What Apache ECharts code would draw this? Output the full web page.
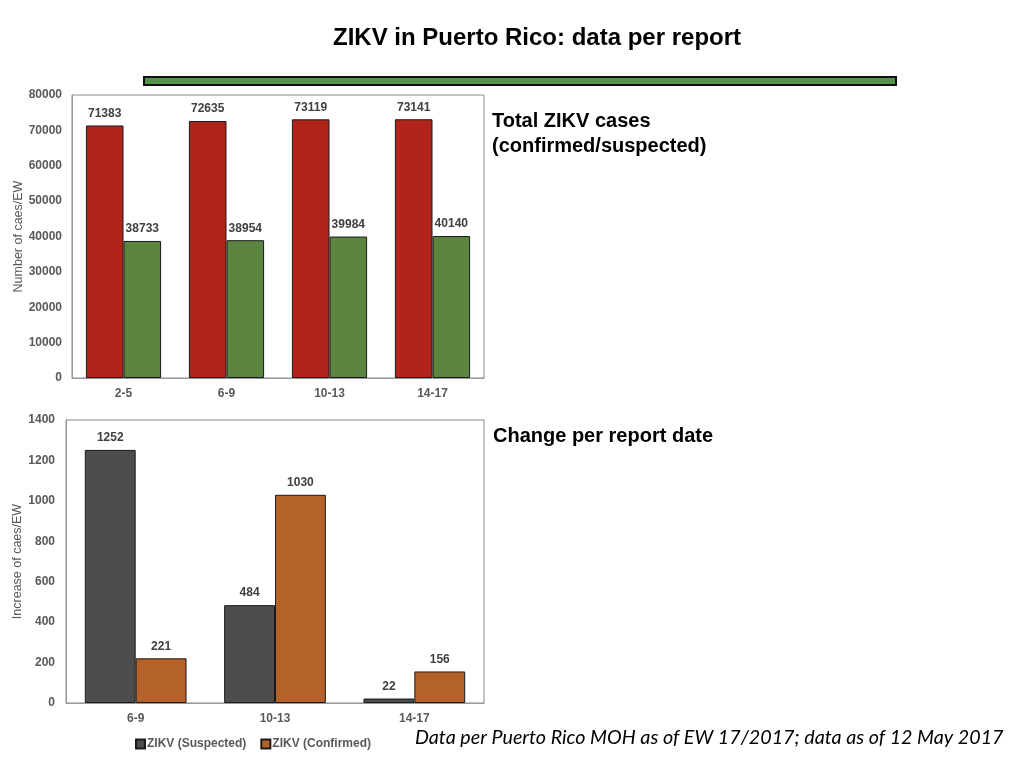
<!DOCTYPE html>
<html><head><meta charset="utf-8">
<script src="https://cdn.jsdelivr.net/npm/echarts@6/dist/echarts.min.js"></script>
<style>html,body{margin:0;padding:0;background:#fff}#c{width:1024px;height:768px}</style>
</head><body><div id="c"></div>
<script>
const totalCategories = ['2-5', '6-9', '10-13', '14-17'];
const totalSuspected = [71383, 72635, 73119, 73141];
const totalConfirmed = [38733, 38954, 39984, 40140];
const changeCategories = ['6-9', '10-13', '14-17'];
const changeSuspected = [1252, 484, 22];
const changeConfirmed = [221, 1030, 156];

const chart = echarts.init(document.getElementById('c'));
const FF = 'Liberation Sans, Arial, sans-serif';
const axisLabelStyle = {color: '#595959', fontWeight: 'bold', fontSize: 12, fontFamily: FF, formatter: v => String(v)};
const valLabel = {show: true, position: 'top', color: '#404040', fontWeight: 'bold', fontSize: 12, fontFamily: FF, distance: 6};
const border = {borderColor: '#1a1a1a', borderWidth: 1};

chart.setOption({
  animation: false,
  title: {
    text: 'ZIKV in Puerto Rico: data per report',
    left: 328, top: 21,
    textStyle: {fontSize: 24, fontWeight: 'bold', color: '#000', fontFamily: FF}
  },
  graphic: [
    {type: 'rect', shape: {x: 144, y: 77, width: 752, height: 8}, style: {fill: '#55924a', stroke: '#111', lineWidth: 2}},
    {type: 'text', left: 492, top: 109, style: {text: 'Total ZIKV cases\n(confirmed/suspected)', fontSize: 20, fontWeight: 'bold', lineHeight: 25, fill: '#000', fontFamily: FF}},
    {type: 'text', left: 493, top: 426, style: {text: 'Change per report date', fontSize: 20, fontWeight: 'bold', fill: '#000', fontFamily: FF}},
    {type: 'text', left: 415, top: 728, style: {text: 'Data per Puerto Rico MOH as of EW 17/2017; data as of 12 May 2017', fontSize: 19.7, fontStyle: 'italic', fill: '#000', fontFamily: 'Lato, Open Sans, sans-serif'}}
  ],
  legend: {
    data: ['ZIKV (Suspected)', 'ZIKV (Confirmed)'],
    left: 130, top: 733, itemWidth: 9, itemHeight: 9, itemGap: 14,
    icon: 'rect',
    textStyle: {color: '#595959', fontWeight: 'bold', fontSize: 12, fontFamily: FF, padding: [0, 0, 0, -3]}
  },
  grid: [
    {left: 72, width: 412, top: 95, height: 283, show: true, borderColor: '#888', borderWidth: 1},
    {left: 66, width: 418, top: 420, height: 283, show: true, borderColor: '#888', borderWidth: 1}
  ],
  xAxis: [
    {type: 'category', gridIndex: 0, data: totalCategories, axisTick: {show: false}, axisLine: {lineStyle: {color: '#999'}}, axisLabel: Object.assign({}, axisLabelStyle, {margin: 10, formatter: null})},
    {type: 'category', gridIndex: 1, data: changeCategories, axisTick: {show: false}, axisLine: {lineStyle: {color: '#999'}}, axisLabel: Object.assign({}, axisLabelStyle, {margin: 10, formatter: null})}
  ],
  yAxis: [
    {type: 'value', gridIndex: 0, min: 0, max: 80000, interval: 10000, splitLine: {show: false}, axisLine: {show: true, lineStyle: {color: '#999'}},
     axisLabel: Object.assign({}, axisLabelStyle, {margin: 10}),
     name: 'Number of caes/EW', nameLocation: 'middle', nameGap: 44, nameRotate: 90,
     nameTextStyle: {color: '#595959', fontSize: 12.5, fontFamily: FF}},
    {type: 'value', gridIndex: 1, min: 0, max: 1400, interval: 200, splitLine: {show: false}, axisLine: {show: true, lineStyle: {color: '#999'}},
     axisLabel: Object.assign({}, axisLabelStyle, {margin: 11}),
     name: 'Increase of caes/EW', nameLocation: 'middle', nameGap: 39, nameRotate: 90,
     nameTextStyle: {color: '#595959', fontSize: 12.5, fontFamily: FF}}
  ],
  series: [
    {name: 'Total (Suspected)', type: 'bar', xAxisIndex: 0, yAxisIndex: 0, data: totalSuspected, barGap: '0%', barCategoryGap: '27%',
     itemStyle: Object.assign({color: '#b0241a'}, border), label: valLabel},
    {name: 'Total (Confirmed)', type: 'bar', xAxisIndex: 0, yAxisIndex: 0, data: totalConfirmed, barGap: '0%', barCategoryGap: '27%',
     itemStyle: Object.assign({color: '#5c8540'}, border), label: valLabel},
    {name: 'ZIKV (Suspected)', type: 'bar', xAxisIndex: 1, yAxisIndex: 1, data: changeSuspected, barGap: '0%', barCategoryGap: '27%',
     itemStyle: Object.assign({color: '#4d4d4d'}, border), label: valLabel},
    {name: 'ZIKV (Confirmed)', type: 'bar', xAxisIndex: 1, yAxisIndex: 1, data: changeConfirmed, barGap: '0%', barCategoryGap: '27%',
     itemStyle: Object.assign({color: '#b5612a'}, border), label: valLabel}
  ]
});
</script></body></html>
